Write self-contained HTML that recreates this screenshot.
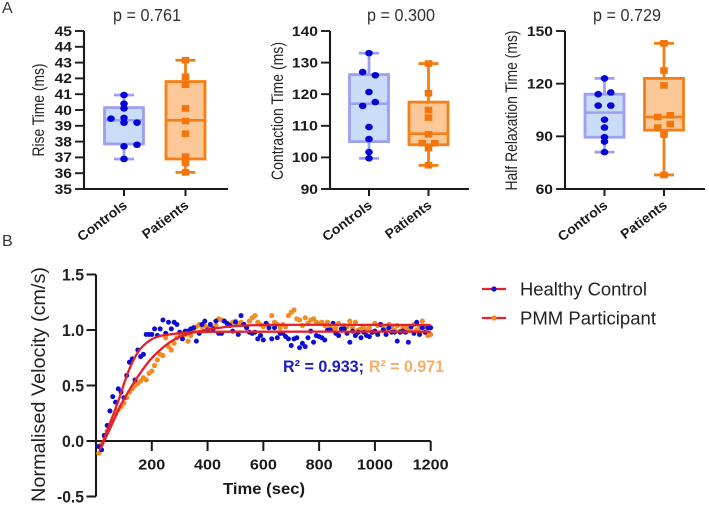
<!DOCTYPE html>
<html lang="en">
<head>
<meta charset="utf-8">
<title>Muscle contraction box plots and normalised velocity</title>
<style>
html,body{margin:0;padding:0;background:#fff;}
#figure{display:block;width:709px;height:506px;font-family:"Liberation Sans",Arial,sans-serif;filter:blur(0.35px);}
</style>
</head>
<body>
<svg id="figure" xmlns="http://www.w3.org/2000/svg" width="709" height="506" viewBox="0 0 709 506">
  <text x="2" y="13" font-size="16" fill="#333">A</text>
  <text x="2" y="246" font-size="16" fill="#333">B</text>
  <g id="layer-a"></g>
  <g id="layer-b"></g>
  <text x="283" y="372" font-size="16.5" font-weight="bold" fill="#1c1cc4" textLength="81" lengthAdjust="spacingAndGlyphs">R² = 0.933;</text>
  <text x="369" y="372" font-size="16.5" font-weight="bold" fill="#f4ae68" textLength="75" lengthAdjust="spacingAndGlyphs">R² = 0.971</text>
  <g>
    <g>
      <line x1="482" x2="506" y1="289" y2="289" stroke="#e8202a" stroke-width="2.2"/>
      <circle cx="494" cy="289" r="2.6" fill="#1010d8"/>
      <text x="520" y="295.5" font-size="18" fill="#222" textLength="127" lengthAdjust="spacingAndGlyphs">Healthy Control</text>
    </g>
    <g>
      <line x1="482" x2="506" y1="318" y2="318" stroke="#e8202a" stroke-width="2.2"/>
      <circle cx="494" cy="318" r="2.6" fill="#f28a1e"/>
      <text x="520" y="324.5" font-size="18" fill="#222" textLength="136" lengthAdjust="spacingAndGlyphs">PMM Participant</text>
    </g>
  </g>
</svg>
<script>
// ---------- Panel A data ----------
const groupLabels = ['Controls', 'Patients'];

const riseTicks = [35, 36, 37, 38, 39, 40, 41, 42, 43, 44, 45];
const riseControlsBox = [36.9, 37.85, 39.35, 40.15, 40.95];
const riseControlsPoints = [40.95, 40.4, 40.1, 39.5, 39.45, 39.2, 39.2, 37.8, 37.7, 36.9];
const riseControlsSlots = [0, 0, 0, 0, -1, 0, 1, 1, 0, 0];
const risePatientsBox = [36.05, 36.9, 39.35, 41.8, 43.15];
const risePatientsPoints = [43.15, 42.1, 41.6, 40.1, 39.3, 38.5, 37.05, 36.65, 36.05];
const risePatientsSlots = [0, 0, 0, 0, 0, 0, 0, 0, 0];

const contractionTicks = [90, 100, 110, 120, 130, 140];
const contractionControlsBox = [99.7, 105, 117, 126.2, 133];
const contractionControlsPoints = [133, 127, 126, 120.7, 117.5, 116.3, 109.6, 105.8, 101.7, 99.7];
const contractionControlsSlots = [0, -1, 1, 0, 1, -1, 0, 0, 0, 0];
const contractionPatientsBox = [97.5, 104, 107.5, 117.5, 129.7];
const contractionPatientsPoints = [129.7, 120.3, 115, 112.6, 107.3, 104.5, 104.5, 102.9, 97.5];
const contractionPatientsSlots = [0, 0, 0, 0, 0, -1, 1, 0, 0];

const relaxTicks = [60, 90, 120, 150];
const relaxControlsBox = [81, 89.5, 103.5, 114, 123];
const relaxControlsPoints = [123, 115, 114, 107.5, 107.5, 99.5, 95, 89.5, 87, 81];
const relaxControlsSlots = [0, 1, -1, -1, 1, 0, 0, 0, 0, 0];
const relaxPatientsBox = [68, 93.5, 101, 123, 143];
const relaxPatientsPoints = [143, 127.5, 119, 102, 101, 97, 95, 91, 68];
const relaxPatientsSlots = [0, 0, 0, 1, -1, 1, -1, 0, 0];

// ---------- Panel B data ----------
const timeTicks = [200, 400, 600, 800, 1000, 1200];
const velocityTicks = [-0.5, 0, 0.5, 1, 1.5];
const sampleStepSec = 10;
const controlVelocity = [
  -0.05, -0.08, 0.05, 0.14, 0.27, 0.40, 0.35, 0.47, 0.44, 0.39,
  0.59, 0.71, 0.74, 0.55, 0.82, 0.76, 0.78, 0.96, 0.96, 0.96,
  1.01, 0.95, 1.01, 1.09, 0.97, 1.07, 1.01, 1.07, 1.05, 0.98,
  0.92, 0.99, 0.99, 1.01, 1.02, 0.90, 0.97, 1.05, 1.08, 1.00,
  1.05, 1.01, 1.08, 0.97, 0.97, 1.08, 1.06, 1.04, 0.99, 1.07,
  0.96, 1.13, 1.05, 1.02, 0.98, 0.97, 0.98, 0.92, 0.95, 0.91,
  1.06, 1.02, 0.92, 1.02, 0.93, 0.97, 0.97, 0.94, 0.92, 0.86,
  0.92, 0.93, 0.84, 0.88, 0.85, 0.93, 0.99, 0.89, 0.95, 0.94,
  0.93, 0.91, 1.00, 1.00, 1.06, 0.97, 0.95, 1.01, 1.01, 0.97,
  0.89, 0.99, 0.95, 0.98, 0.93, 0.98, 0.95, 0.94, 0.98, 0.99,
  0.96, 1.05, 1.00, 0.96, 1.02, 0.98, 0.98, 0.90, 0.98, 0.99,
  0.98, 0.89, 1.03, 0.97, 1.07, 0.96, 1.02, 0.98, 1.02, 1.02
];
const patientVelocity = [
  -0.11, -0.03, 0.04, 0.09, 0.14, 0.19, 0.24, 0.28, 0.31, 0.34,
  0.39, 0.44, 0.47, 0.50, 0.52, 0.54, 0.57, 0.55, 0.61, 0.63,
  0.68, 0.73, 0.78, 0.77, 0.93, 0.85, 0.82, 0.88, 0.93, 0.95,
  0.97, 0.96, 0.90, 0.95, 1.00, 1.03, 1.05, 1.03, 1.04, 1.02,
  1.00, 1.02, 1.04, 1.10, 1.09, 1.08, 1.06, 1.05, 1.07, 1.08,
  1.06, 1.07, 1.05, 1.03, 1.08, 1.11, 1.13, 1.07, 1.05, 1.03,
  1.06, 1.04, 1.13, 1.07, 1.05, 1.02, 1.05, 1.03, 1.13, 1.16,
  1.18, 1.10, 1.09, 1.04, 1.11, 1.06, 1.09, 1.10, 1.07, 1.06,
  1.07, 1.04, 1.07, 1.03, 1.00, 1.02, 1.06, 1.01, 1.04, 1.03,
  1.08, 1.02, 1.07, 1.00, 1.01, 1.03, 1.00, 1.02, 0.98, 1.06,
  1.04, 1.05, 1.02, 1.00, 1.05, 1.03, 1.00, 1.04, 0.99, 1.02,
  1.03, 1.01, 1.00, 1.05, 1.00, 1.02, 1.08, 1.03, 0.95, 0.96
];
const controlFitTimes = [14, 50, 80, 115, 150, 184, 220, 265, 337, 500, 1200];
const controlFitValues = [-0.08, 0.16, 0.36, 0.62, 0.80, 0.89, 0.94, 0.96, 0.98, 0.985, 0.985];
const patientFitTimes = [14, 50, 86, 122, 158, 194, 230, 265, 301, 337, 373, 427, 600, 1200];
const patientFitValues = [-0.08, 0.11, 0.31, 0.47, 0.61, 0.73, 0.82, 0.89, 0.94, 0.97, 0.99, 1.015, 1.045, 1.045];

// ---------- helpers ----------
const SVG_NS = 'http://www.w3.org/2000/svg';
const INK = '#1a1a1a';
function mk(tag, attrs, parent, text) {
  const el = document.createElementNS(SVG_NS, tag);
  for (const k in attrs) el.setAttribute(k, attrs[k]);
  if (text !== undefined) el.textContent = text;
  parent.appendChild(el);
  return el;
}
function linearScale(d0, d1, r0, r1) {
  return function (v) { return r0 + (v - d0) / (d1 - d0) * (r1 - r0); };
}
function smoothPath(xs, ys) {
  let d = 'M' + xs[0].toFixed(2) + ' ' + ys[0].toFixed(2);
  for (let i = 0; i < xs.length - 1; i++) {
    const a = Math.max(i - 1, 0), b = i + 1, c = Math.min(i + 2, xs.length - 1);
    const c1x = xs[i] + (xs[b] - xs[a]) / 6, c1y = ys[i] + (ys[b] - ys[a]) / 6;
    const c2x = xs[b] - (xs[c] - xs[i]) / 6, c2y = ys[b] - (ys[c] - ys[i]) / 6;
    d += 'C' + c1x.toFixed(2) + ' ' + c1y.toFixed(2) + ' ' + c2x.toFixed(2) + ' ' + c2y.toFixed(2) + ' ' + xs[b].toFixed(2) + ' ' + ys[b].toFixed(2);
  }
  return d;
}

// ---------- Panel A ----------
const layerA = document.getElementById('layer-a');
const boxPlotTop = 31, boxPlotBottom = 189;
const groupStyles = [
  { fill: '#c9ddf8', stroke: '#9c9ff2', whisker: '#9c9ff2', mark: '#0404d8', shape: 'circle' },
  { fill: '#fdc898', stroke: '#f57f14', whisker: '#f57f14', mark: '#f2760c', shape: 'square' }
];
const boxPanels = [
  { id: 'rise-time', title: 'p = 0.761', titleX: 113, yTitle: 'Rise Time (ms)', yTitleX: 44, yTitleLen: 93, yTitleMid: 110,
    axisX: 84, axisEnd: 228, centers: [124, 185.5], spread: 13, ticks: riseTicks,
    boxes: [riseControlsBox, risePatientsBox], points: [riseControlsPoints, risePatientsPoints], slots: [riseControlsSlots, risePatientsSlots] },
  { id: 'contraction-time', title: 'p = 0.300', titleX: 367, yTitle: 'Contraction Time (ms)', yTitleX: 283, yTitleLen: 138, yTitleMid: 111,
    axisX: 330, axisEnd: 469, centers: [369, 428.5], spread: 6.3, ticks: contractionTicks,
    boxes: [contractionControlsBox, contractionPatientsBox], points: [contractionControlsPoints, contractionPatientsPoints], slots: [contractionControlsSlots, contractionPatientsSlots] },
  { id: 'half-relaxation-time', title: 'p = 0.729', titleX: 593, yTitle: 'Half Relaxation Time (ms)', yTitleX: 517, yTitleLen: 160, yTitleMid: 110.5,
    axisX: 565, axisEnd: 705, centers: [604.5, 664], spread: 6.3, ticks: relaxTicks,
    boxes: [relaxControlsBox, relaxPatientsBox], points: [relaxControlsPoints, relaxPatientsPoints], slots: [relaxControlsSlots, relaxPatientsSlots] }
];

boxPanels.forEach(function (p) {
  const g = mk('g', {}, layerA);
  
  

  const title = mk('text', { x: p.titleX, y: 21, 'font-size': 17.5, fill: '#333', textLength: 68, lengthAdjust: 'spacingAndGlyphs' }, g, p.title);
  
  

  const yTitle = mk('text', { transform: 'translate(' + p.yTitleX + ' ' + p.yTitleMid + ') rotate(-90)', 'text-anchor': 'middle', 'font-size': 16.5, fill: '#222', textLength: p.yTitleLen, lengthAdjust: 'spacingAndGlyphs' }, g, p.yTitle);
  
  

  const y = linearScale(p.ticks[0], p.ticks[p.ticks.length - 1], boxPlotBottom, boxPlotTop);

  p.boxes.forEach(function (s, i) {
    const st = groupStyles[i], cx = p.centers[i], key = p.id + '-' + groupLabels[i].toLowerCase();
    const whisker = mk('path', {
      d: 'M' + (cx - 10) + ' ' + y(s[4]) + 'H' + (cx + 10) + 'M' + cx + ' ' + y(s[4]) + 'V' + y(s[3]) +
         'M' + cx + ' ' + y(s[1]) + 'V' + y(s[0]) + 'M' + (cx - 10) + ' ' + y(s[0]) + 'H' + (cx + 10),
      stroke: st.whisker, 'stroke-width': 2.8, fill: 'none' }, g);
    
    

    const box = mk('rect', { x: cx - 19.5, y: y(s[3]), width: 39, height: y(s[1]) - y(s[3]), fill: st.fill, stroke: st.stroke, 'stroke-width': 2.8 }, g);
    
    

    const median = mk('line', { x1: cx - 19.5, x2: cx + 19.5, y1: y(s[2]), y2: y(s[2]), stroke: st.stroke, 'stroke-width': 2.6 }, g);
    
    

    p.points[i].forEach(function (v, j) {
      const px = cx + p.slots[i][j] * p.spread, py = y(v);
      let dot;
      if (st.shape === 'circle') {
        dot = mk('ellipse', { cx: px, cy: py, rx: 3.8, ry: 3.3, fill: st.mark }, g);
      } else {
        dot = mk('rect', { x: px - 3.8, y: py - 3.3, width: 7.6, height: 6.6, fill: st.mark }, g);
      }
      
      
    });

    const tick = mk('line', { x1: cx, x2: cx, y1: boxPlotBottom, y2: boxPlotBottom + 7, stroke: INK, 'stroke-width': 2 }, g);
    
    

    const lab = mk('text', { transform: 'translate(' + (cx + 4) + ' ' + (boxPlotBottom + 18) + ') rotate(-37)', 'text-anchor': 'end', 'font-size': 13.5, 'font-weight': 'bold', fill: INK, textLength: i === 0 ? 58 : 54, lengthAdjust: 'spacingAndGlyphs' }, g, groupLabels[i]);
    
    
  });

  const axes = mk('path', { d: 'M' + p.axisX + ' ' + boxPlotTop + 'V' + boxPlotBottom + 'H' + p.axisEnd, stroke: INK, 'stroke-width': 2.1, fill: 'none' }, g);
  
  

  p.ticks.forEach(function (t) {
    const tk = mk('line', { x1: p.axisX - 9, x2: p.axisX, y1: y(t), y2: y(t), stroke: INK, 'stroke-width': 1.9 }, g);
    
    

    const label = String(t);
    const tl = mk('text', { x: p.axisX - 12, y: y(t) + 4.8, 'text-anchor': 'end', 'font-size': 13.5, 'font-weight': 'bold', fill: INK, textLength: label.length * 8.7, lengthAdjust: 'spacingAndGlyphs' }, g, label);
    
    
  });
});

// ---------- Panel B ----------
const layerB = document.getElementById('layer-b');
const xTime = linearScale(0, 1200, 96, 430.7);
const yVel = linearScale(0, 1, 441, 330);

const velTitle = mk('text', { transform: 'translate(45 384.5) rotate(-90)', 'text-anchor': 'middle', 'font-size': 19.5, fill: '#222', textLength: 235, lengthAdjust: 'spacingAndGlyphs' }, layerB, 'Normalised Velocity (cm/s)');



const timeTitle = mk('text', { x: 223, y: 494, 'font-size': 15.5, 'font-weight': 'bold', fill: INK, textLength: 82, lengthAdjust: 'spacingAndGlyphs' }, layerB, 'Time (sec)');



const yAxisB = mk('line', { x1: 96, x2: 96, y1: yVel(1.5), y2: yVel(-0.5), stroke: INK, 'stroke-width': 2.1 }, layerB);



const xAxisB = mk('line', { x1: 96, x2: xTime(1200), y1: yVel(0), y2: yVel(0), stroke: INK, 'stroke-width': 2.1 }, layerB);



velocityTicks.forEach(function (t) {
  const tk = mk('line', { x1: 86.5, x2: 96, y1: yVel(t), y2: yVel(t), stroke: INK, 'stroke-width': 2 }, layerB);
  
  

  const label = t.toFixed(1);
  const tl = mk('text', { x: 84, y: yVel(t) + 6, 'text-anchor': 'end', 'font-size': 16.5, 'font-weight': 'bold', fill: '#222', textLength: t < 0 ? 27 : 22, lengthAdjust: 'spacingAndGlyphs' }, layerB, label);
  
  
});

timeTicks.forEach(function (t) {
  const tk = mk('line', { x1: xTime(t), x2: xTime(t), y1: yVel(0), y2: yVel(0) + 10, stroke: INK, 'stroke-width': 2 }, layerB);
  
  

  const label = String(t);
  const tl = mk('text', { x: xTime(t), y: 469.5, 'text-anchor': 'middle', 'font-size': 15, 'font-weight': 'bold', fill: INK, textLength: label.length * 9, lengthAdjust: 'spacingAndGlyphs' }, layerB, label);
  
  
});

patientVelocity.forEach(function (v, i) {
  const dot = mk('circle', { cx: xTime((i + 1) * sampleStepSec), cy: yVel(v), r: 2.6, fill: '#f28c22' }, layerB);
  
  
});
controlVelocity.forEach(function (v, i) {
  const dot = mk('circle', { cx: xTime((i + 1) * sampleStepSec), cy: yVel(v), r: 2.5, fill: '#0c0cd6' }, layerB);
  
  
});

const controlFit = mk('path', { d: smoothPath(controlFitTimes.map(xTime), controlFitValues.map(yVel)), fill: 'none', stroke: '#e4202a', 'stroke-width': 2.3 }, layerB);



const patientFit = mk('path', { d: smoothPath(patientFitTimes.map(xTime), patientFitValues.map(yVel)), fill: 'none', stroke: '#e4202a', 'stroke-width': 2.3 }, layerB);


</script>
</body>
</html>
